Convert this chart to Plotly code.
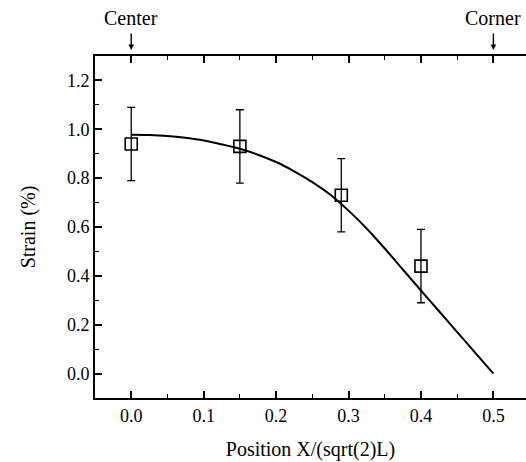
import plotly.graph_objects as go

# measured data
pos_x = [0.0, 0.15, 0.29, 0.40]
strain = [0.94, 0.93, 0.73, 0.44]
strain_err = [0.15, 0.15, 0.15, 0.15]

# fitted curve
fit_x = [0.0, 0.025, 0.05, 0.075, 0.1, 0.125, 0.15, 0.175, 0.2, 0.225, 0.25, 0.275,
         0.3, 0.325, 0.35, 0.375, 0.4, 0.425, 0.45, 0.475, 0.5]
fit_y = [0.978, 0.977, 0.973, 0.965, 0.954, 0.938, 0.920, 0.896, 0.866, 0.828, 0.784, 0.732,
         0.667, 0.594, 0.512, 0.426, 0.340, 0.255, 0.170, 0.085, 0.0]

top_labels = ["Center", "Corner"]
top_pos = [0.0, 0.5]

FONT = "Liberation Serif, Times New Roman, DejaVu Serif, serif"

fig = go.Figure()
fig.add_trace(go.Scatter(x=fit_x, y=fit_y, mode="lines",
                         line=dict(color="black", width=2, shape="spline", smoothing=0.8),
                         showlegend=False, hoverinfo="skip"))
fig.add_trace(go.Scatter(x=pos_x, y=strain, mode="markers",
                         marker=dict(symbol="square-open", size=12, color="black",
                                     line=dict(width=1.6, color="black")),
                         error_y=dict(type="data", array=strain_err, visible=True,
                                      color="black", thickness=1.3, width=4),
                         showlegend=False))

for lab, p in zip(top_labels, top_pos):
    fig.add_annotation(x=p, xref="x", y=1.0175, yref="paper", text="",
                       showarrow=True, ax=0, ay=-18, arrowhead=2, arrowsize=0.8,
                       arrowwidth=1.4, arrowcolor="black")
    fig.add_annotation(x=p, xref="x", y=1.111, yref="paper", text=lab,
                       showarrow=False, font=dict(family=FONT, size=20, color="black"),
                       xanchor="center", yanchor="middle")

axis_common = dict(showgrid=False, zeroline=False, showline=True, linecolor="black",
                   linewidth=2, ticks="inside", ticklen=7, tickwidth=1.6, automargin=False,
                   tickcolor="black", tickfont=dict(family=FONT, size=18, color="black"))

fig.update_xaxes(range=[-0.05, 0.545], dtick=0.1, tick0=0, tickformat=".1f",
                 mirror="ticks",
                 minor=dict(ticks="inside", ticklen=4, tickwidth=1.4, dtick=0.05,
                            tickcolor="black", showgrid=False),
                 title=dict(text="Position X/(sqrt(2)L)", standoff=17,
                            font=dict(family=FONT, size=20, color="black")),
                 **axis_common)
fig.update_yaxes(range=[-0.1, 1.3], dtick=0.2, tick0=0, tickformat=".1f",
                 mirror=False,
                 minor=dict(ticks="inside", ticklen=4, tickwidth=1.4, dtick=0.1,
                            tickcolor="black", showgrid=False),
                 title=dict(text="Strain (%)", standoff=26,
                            font=dict(family=FONT, size=20, color="black")),
                 **axis_common)

fig.update_layout(width=526, height=462, margin=dict(l=95, r=0, t=56, b=64),
                  paper_bgcolor="white", plot_bgcolor="white",
                  font=dict(family=FONT, color="black"))

fig.write_html("out.html", config={"displayModeBar": False},
               post_script="document.body.style.margin='0';document.body.style.overflow='hidden';")
